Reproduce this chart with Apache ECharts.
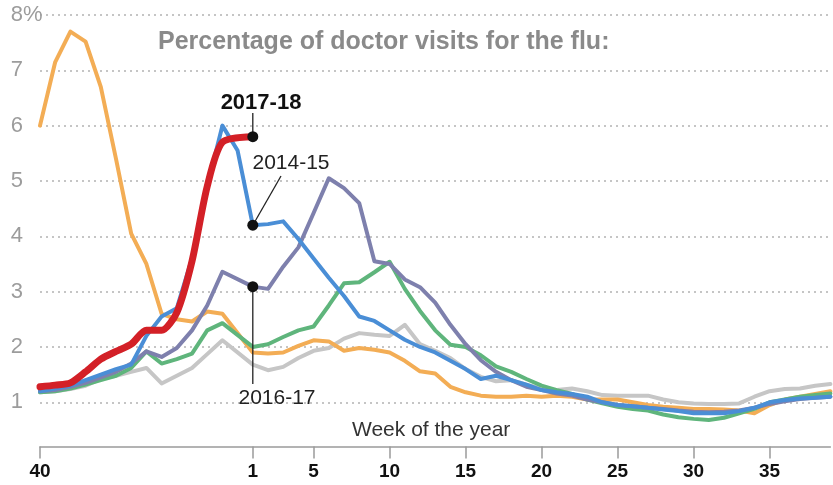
<!DOCTYPE html>
<html>
<head>
<meta charset="utf-8">
<title>Flu doctor visits</title>
<script src="https://cdn.jsdelivr.net/npm/echarts@6/dist/echarts.min.js"></script>
<style>
  html, body { margin: 0; padding: 0; background: #fff; }
  #chart { width: 833px; height: 485px; }
</style>
</head>
<body>
<div id="chart"></div>
<script>
// week of the year, season runs from week 40 to week 39 (2014-15 had a week 53)
const weeks = ['40','41','42','43','44','45','46','47','48','49','50','51','52','53',
  '1','2','3','4','5','6','7','8','9','10','11','12','13','14','15','16','17','18','19','20',
  '21','22','23','24','25','26','27','28','29','30','31','32','33','34','35','36','37','38','39'];
const labeledWeeks = ['40','1','5','10','15','20','25','30','35'];

// percent of doctor visits for influenza-like illness
const s2017_18 = [1.28,1.31,1.35,1.55,1.78,1.92,2.05,2.3,2.3,2.62,3.55,4.9,5.7,null,5.8];
const s2014_15 = [1.2,1.25,1.3,1.4,1.5,1.6,1.68,2.2,2.55,2.7,3.6,4.9,6.0,5.55,4.2,
  4.22,4.27,3.95,3.6,3.25,2.92,2.55,2.47,2.3,2.13,2.0,1.9,1.75,1.6,1.42,1.48,1.4,1.32,1.22,1.18,
  1.15,1.1,1.0,0.95,0.93,0.9,0.87,0.84,0.8,0.8,0.8,0.84,0.9,1.0,1.04,1.07,1.08,1.1];
const s2016_17 = [1.2,1.22,1.28,1.35,1.45,1.55,1.7,1.92,1.82,1.98,2.3,2.75,3.36,null,3.09,
  3.05,3.45,3.8,4.42,5.05,4.87,4.6,3.55,3.5,3.22,3.08,2.8,2.4,2.05,1.76,1.55,1.4,1.28,1.22,1.16,
  1.12,1.05,1.0,0.95,0.93,0.9,0.88,0.85,0.83,0.82,0.83,0.85,0.9,0.97,1.02,1.06,1.08,1.1];
const sGreen = [1.18,1.2,1.25,1.32,1.4,1.48,1.62,1.92,1.7,1.78,1.88,2.3,2.43,null,2.0,
  2.05,2.18,2.3,2.37,2.75,3.15,3.17,3.35,3.54,3.05,2.65,2.3,2.04,2.0,1.85,1.65,1.55,1.42,1.3,1.22,
  1.15,1.05,0.98,0.92,0.88,0.85,0.78,0.73,0.7,0.68,0.72,0.8,0.88,1.0,1.05,1.1,1.13,1.16];
const sGrey = [1.18,1.2,1.24,1.3,1.42,1.48,1.55,1.62,1.34,1.48,1.62,1.87,2.12,null,1.68,
  1.58,1.64,1.8,1.93,1.98,2.15,2.25,2.22,2.2,2.4,2.05,1.93,1.8,1.6,1.46,1.38,1.4,1.32,1.25,1.22,
  1.25,1.2,1.13,1.12,1.12,1.12,1.05,1.0,0.98,0.97,0.97,0.98,1.1,1.2,1.24,1.25,1.3,1.33];
const sOrange = [6.0,7.15,7.7,7.52,6.7,5.4,4.05,3.5,2.6,2.5,2.46,2.64,2.6,null,1.9,
  1.88,1.9,2.02,2.12,2.1,1.93,1.98,1.95,1.9,1.75,1.56,1.52,1.28,1.18,1.12,1.1,1.1,1.12,1.1,1.12,
  1.1,1.05,1.05,1.05,1.0,0.95,0.92,0.9,0.88,0.88,0.87,0.85,0.8,0.95,1.05,1.1,1.15,1.2];

const FONT = '"Liberation Sans", Arial, sans-serif';
const NARROW = '"Liberation Sans Narrow", "Liberation Sans", sans-serif';

const chartDom = document.getElementById('chart');
const myChart = echarts.init(chartDom, null, { renderer: 'canvas' });

function lineSeries(name, data, color, width, z, smooth) {
  return {
    name: name, type: 'line', data: data, z: z, smooth: smooth || false,
    symbol: 'none', connectNulls: true, silent: true,
    lineStyle: { color: color, width: width, cap: 'round', join: 'round' }
  };
}

const showWeek = (i, v) => labeledWeeks.includes(v);

const option = {
  animation: false,
  backgroundColor: '#fff',
  grid: { left: 40, right: 2.6, top: 15, bottom: 27.4, containLabel: false },
  xAxis: {
    type: 'category', data: weeks, boundaryGap: false, offset: -11,
    axisLine: { lineStyle: { color: '#9a9a9a', width: 1.5 } },
    axisTick: { interval: showWeek, length: 12, lineStyle: { color: '#9a9a9a', width: 1.5 } },
    axisLabel: { interval: showWeek, margin: 16, color: '#111', fontWeight: 'bold', fontSize: 19, fontFamily: FONT },
    splitLine: { show: false }
  },
  yAxis: {
    type: 'value', min: 0, max: 8, interval: 1,
    axisLine: { show: false }, axisTick: { show: false },
    axisLabel: {
      align: 'right', margin: 17, color: '#9c9c9c', fontSize: 22, fontFamily: NARROW,
      formatter: v => v === 0 ? '' : String(v)
    },
    splitLine: { showMinLine: false, lineStyle: { type: [2, 4], color: '#b3b3b3', width: 1.5 } }
  },
  series: [
    lineSeries('Grey season', sGrey, '#c6c6c6', 4, 2),
    lineSeries('2009-10', sOrange, '#f3ad55', 4, 3),
    lineSeries('Green season', sGreen, '#5fb57c', 4, 4),
    lineSeries('2016-17', s2016_17, '#7e80ad', 4, 5),
    lineSeries('2014-15', s2014_15, '#4a8ed6', 4, 6),
    lineSeries('2017-18', s2017_18, '#d32027', 7, 7, 0.25)
  ]
};
myChart.setOption(option);

// labels for the three highlighted seasons, anchored to their week-1 values
const wk1 = weeks.indexOf('1');
const pRed = myChart.convertToPixel({ gridIndex: 0 }, [wk1, s2017_18[wk1]]);
const pBlue = myChart.convertToPixel({ gridIndex: 0 }, [wk1, s2014_15[wk1]]);
const pPurple = myChart.convertToPixel({ gridIndex: 0 }, [wk1, s2016_17[wk1]]);
const yTop = myChart.convertToPixel({ yAxisIndex: 0 }, 8);

const dot = p => ({ type: 'circle', shape: { cx: p[0], cy: p[1], r: 5.5 }, style: { fill: '#111' }, z: 100 });
const lead = (x1, y1, x2, y2) => ({ type: 'line', shape: { x1, y1, x2, y2 }, style: { stroke: '#222', lineWidth: 1.3 }, z: 99 });

myChart.setOption({
  graphic: [
    { type: 'text', x: 23, y: yTop, z: 50,
      style: { text: '%', fill: '#9c9c9c', font: '22px ' + NARROW, textVerticalAlign: 'middle' } },
    { type: 'text', x: 158, y: 42, z: 50,
      style: { text: 'Percentage of doctor visits for the flu:', fill: '#8a8a8a', font: 'bold 25px ' + NARROW, textVerticalAlign: 'middle' } },
    { type: 'text', x: 352, y: 430, z: 50,
      style: { text: 'Week of the year', fill: '#333', font: '21px ' + FONT, textVerticalAlign: 'middle' } },
    lead(pRed[0], pRed[1], pRed[0], 113),
    dot(pRed),
    { type: 'text', x: 261, y: 103, z: 101,
      style: { text: '2017-18', fill: '#111', font: 'bold 22px ' + FONT, textAlign: 'center', textVerticalAlign: 'middle' } },
    lead(pBlue[0], pBlue[1], 281, 176),
    dot(pBlue),
    { type: 'text', x: 291, y: 163, z: 101,
      style: { text: '2014-15', fill: '#222', font: '21px ' + FONT, textAlign: 'center', textVerticalAlign: 'middle' } },
    lead(pPurple[0], pPurple[1], pPurple[0], 384),
    dot(pPurple),
    { type: 'text', x: 277, y: 398, z: 101,
      style: { text: '2016-17', fill: '#222', font: '21px ' + FONT, textAlign: 'center', textVerticalAlign: 'middle' } }
  ]
});

window.addEventListener('resize', () => myChart.resize());
</script>
</body>
</html>
